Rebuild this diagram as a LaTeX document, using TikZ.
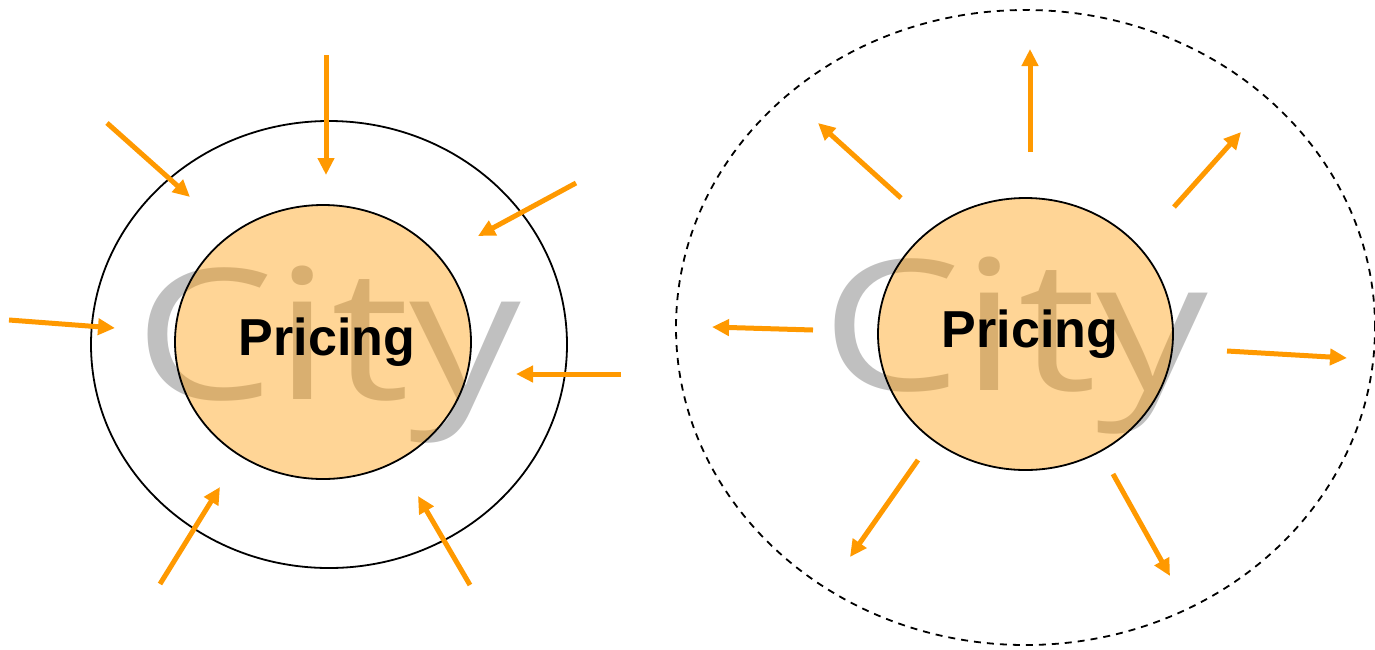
\documentclass[tikz,border=0pt]{standalone}
\usepackage{fontspec}
\setmainfont{Liberation Sans}
\newfontfamily\cityfont{Open Sans}
\usetikzlibrary{shapes.geometric,arrows.meta}
\definecolor{arr}{HTML}{FF9900}
\definecolor{citygray}{HTML}{C0C0C0}
\tikzset{
  ring/.style={draw=black,line width=1.8pt,ellipse,inner sep=0pt},
  core/.style={ellipse,inner sep=0pt,draw=black,line width=1.8pt,fill=arr,fill opacity=0.41,draw opacity=1,text opacity=1},
  citylabel/.style={text=citygray,font=\cityfont\fontsize{182}{182}\selectfont,inner sep=0pt,xscale=1.22},
  pricelabel/.style={font=\bfseries\fontsize{52}{52}\selectfont,inner sep=0pt},
  flow/.style={draw=arr,line width=5pt,-{Triangle[length=17pt,width=16pt]}}
}
\begin{document}
\begin{tikzpicture}[x=1pt,y=-1pt]
\useasboundingbox (0,0) rectangle (1375,649);
% left
\node[citylabel] (cityL) at (328,355) {City};
\node[ring,minimum width=476pt,minimum height=447pt] (outerL) at (329,344.5) {};
\node[core,minimum width=296pt,minimum height=274pt] (coreL) at (323,342) {};
\node[pricelabel] (priceL) at (327,342) {Pricing};
% right
\node[citylabel] (cityR) at (1015,346) {City};
\node[ring,dashed,dash pattern=on 7pt off 6pt,minimum width=699pt,minimum height=635pt] (outerR) at (1025.5,327.5) {};
\node[core,minimum width=295pt,minimum height=272pt] (coreR) at (1025.5,334) {};
\node[pricelabel] (priceR) at (1030,334) {Pricing};
% left arrow coordinates
\coordinate (a1s) at (107,123); \coordinate (a1e) at (190,197);
\coordinate (a2s) at (326,55);  \coordinate (a2e) at (326,175);
\coordinate (a3s) at (576,183); \coordinate (a3e) at (478,236);
\coordinate (a4s) at (9,320);   \coordinate (a4e) at (115,328);
\coordinate (a5s) at (621,374); \coordinate (a5e) at (516,374);
\coordinate (a6s) at (160,584); \coordinate (a6e) at (220,487);
\coordinate (a7s) at (470,585); \coordinate (a7e) at (418,496);
\foreach \i in {1,...,7} \draw[flow] (a\i s) -- (a\i e);
% right arrow coordinates
\coordinate (b1s) at (1030,152); \coordinate (b1e) at (1030,49);
\coordinate (b2s) at (901,198);  \coordinate (b2e) at (818,123);
\coordinate (b3s) at (1174,207); \coordinate (b3e) at (1241,132);
\coordinate (b4s) at (813,330);  \coordinate (b4e) at (712,327);
\coordinate (b5s) at (1227,351); \coordinate (b5e) at (1347,358);
\coordinate (b6s) at (918,460);  \coordinate (b6e) at (850,557);
\coordinate (b7s) at (1113,474); \coordinate (b7e) at (1170,576);
\foreach \i in {1,...,7} \draw[flow] (b\i s) -- (b\i e);
\end{tikzpicture}
\end{document}
